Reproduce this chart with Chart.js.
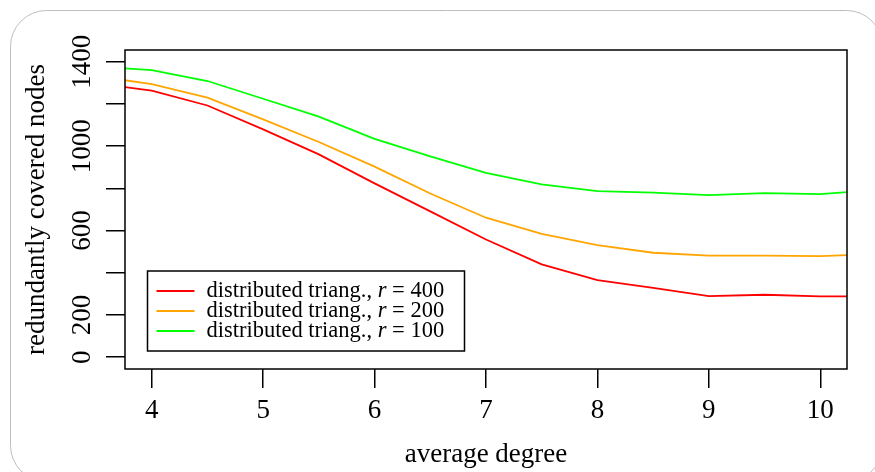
<!DOCTYPE html>
<html>
<head>
<meta charset="utf-8">
<script src="https://cdn.jsdelivr.net/npm/chart.js@4/dist/chart.umd.min.js"></script>
<style>
    html, body { margin: 0; padding: 0; background: #fff; }
    canvas { display: block; }
</style>
</head>
<body>
<canvas id="chart" width="875" height="472"></canvas>
<script>
// average degree (the outer points fall just outside the visible range)
const degrees = [3.5, 4, 4.5, 5, 5.5, 6, 6.5, 7, 7.5, 8, 8.5, 9, 9.5, 10, 10.5];
const coveredR400 = [1299, 1263, 1193, 1080, 961, 824, 691, 558, 440, 365, 329, 289, 296, 288, 288];
const coveredR200 = [1333, 1294, 1230, 1127, 1020, 903, 776, 661, 585, 531, 495, 481, 481, 479, 489];
const coveredR100 = [1378, 1361, 1309, 1225, 1140, 1035, 952, 874, 819, 787, 780, 768, 778, 773, 792];
const radii = [400, 200, 100];
const seriesColors = ["#ff0000", "#ffa500", "#00ff00"];
const labelPrefix = "distributed triang., ";
const yTickLabels = [0, 200, 600, 1000, 1400];

const serif = '"Liberation Serif", "Times New Roman", serif';
Chart.defaults.font.family = serif;
Chart.defaults.color = "#000";

const series = [coveredR400, coveredR200, coveredR100];

const roundedBorder = {
    id: "roundedBorder",
    beforeDraw(chart) {
        const ctx = chart.ctx;
        ctx.save();
        ctx.strokeStyle = "#bdbdbd";
        ctx.lineWidth = 1;
        ctx.beginPath();
        ctx.roundRect(10.5, 10.5, 872, 471, 36);
        ctx.stroke();
        ctx.restore();
    }
};

const frameAndLegend = {
    id: "frameAndLegend",
    afterDatasetsDraw(chart) {
        const { ctx, chartArea } = chart;
        ctx.save();
        ctx.strokeStyle = "#000";
        ctx.lineWidth = 1.5;
        ctx.strokeRect(chartArea.left, chartArea.top,
            chartArea.right - chartArea.left, chartArea.bottom - chartArea.top);

        const left = chartArea.left + 22.5;
        const top = chartArea.top + 221;
        ctx.fillStyle = "#fff";
        ctx.fillRect(left, top, 317, 80);
        ctx.strokeRect(left, top, 317, 80);

        ctx.textBaseline = "middle";
        chart.data.datasets.forEach((dataset, i) => {
            const y = top + 20 + i * 20;
            ctx.strokeStyle = dataset.borderColor;
            ctx.lineWidth = 1.8;
            ctx.beginPath();
            ctx.moveTo(left + 9, y);
            ctx.lineTo(left + 47, y);
            ctx.stroke();

            let x = left + 59;
            ctx.fillStyle = "#000";
            ctx.font = `22.5px ${serif}`;
            ctx.fillText(labelPrefix, x, y);
            x += ctx.measureText(labelPrefix).width;
            ctx.font = `italic 22.5px ${serif}`;
            ctx.fillText("r", x, y);
            x += ctx.measureText("r").width;
            ctx.font = `22.5px ${serif}`;
            ctx.fillText(` = ${radii[i]}`, x, y);
        });
        ctx.restore();
    }
};

new Chart(document.getElementById("chart"), {
    type: "line",
    data: {
        labels: degrees,
        datasets: series.map((values, i) => ({
            label: `${labelPrefix}r = ${radii[i]}`,
            data: values.map((v, j) => ({ x: degrees[j], y: v })),
            borderColor: seriesColors[i],
            borderWidth: 1.8,
            pointRadius: 0,
            tension: 0,
            fill: false
        }))
    },
    options: {
        responsive: false,
        animation: false,
        layout: { padding: { left: 0, top: 50, right: 28, bottom: 0 } },
        plugins: {
            legend: { display: false },
            tooltip: { enabled: false }
        },
        scales: {
            x: {
                type: "linear",
                min: 3.76,
                max: 10.24,
                afterFit(scale) { scale.height = 103; },
                border: { display: false },
                grid: {
                    drawOnChartArea: false,
                    drawTicks: true,
                    tickLength: 19,
                    color: "#000",
                    lineWidth: 1.5
                },
                ticks: {
                    stepSize: 1,
                    includeBounds: false,
                    autoSkip: false,
                    padding: 7,
                    font: { size: 27 },
                    maxRotation: 0
                },
                title: {
                    display: true,
                    text: "average degree",
                    font: { size: 27 },
                    padding: { top: 0, bottom: 1 }
                }
            },
            y: {
                min: -56,
                max: 1456,
                afterFit(scale) { scale.width = 125; },
                border: { display: false },
                grid: {
                    drawOnChartArea: false,
                    drawTicks: true,
                    tickLength: 19,
                    color: "#000",
                    lineWidth: 1.5
                },
                ticks: {
                    stepSize: 200,
                    includeBounds: false,
                    autoSkip: false,
                    minRotation: 90,
                    maxRotation: 90,
                    crossAlign: "center",
                    padding: -4,
                    font: { size: 27 },
                    callback(value) {
                        return yTickLabels.includes(value) ? String(value) : "";
                    }
                },
                title: {
                    display: true,
                    text: "redundantly covered nodes",
                    font: { size: 27 },
                    padding: { top: 21, bottom: 0 }
                }
            }
        }
    },
    plugins: [roundedBorder, frameAndLegend]
});
</script>
</body>
</html>
